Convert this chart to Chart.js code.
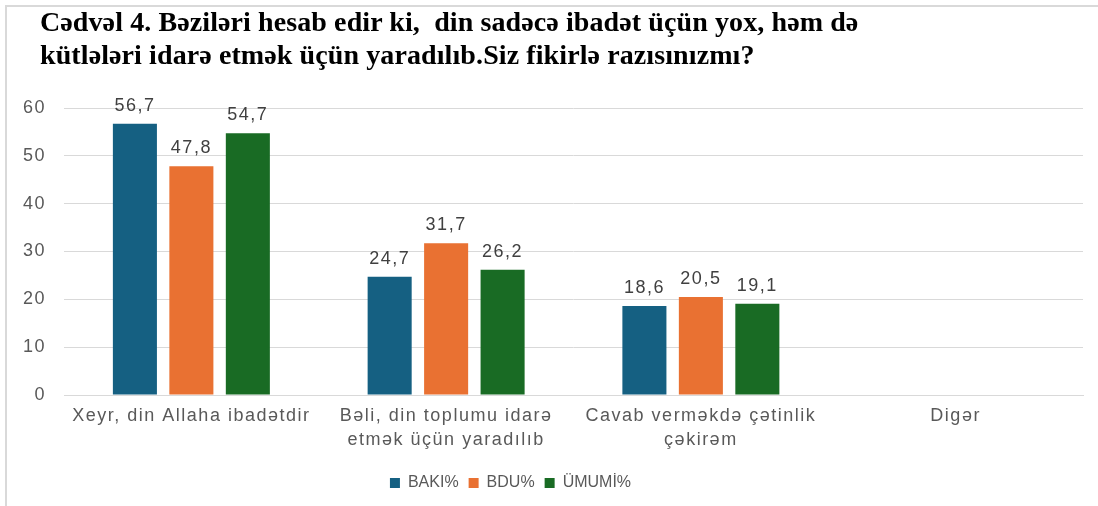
<!DOCTYPE html>
<html>
<head>
<meta charset="utf-8">
<script src="https://cdn.jsdelivr.net/npm/chart.js@4"></script>
<style>
  body { margin: 0; background: #fff; }
  #wrap { position: relative; width: 1098px; height: 506px; }
  #frame { position: absolute; left: 5px; top: 5px; right: 0; bottom: 0;
           border-top: 2px solid #d9d9d9; border-left: 2px solid #d9d9d9; }
  #title { position: absolute; left: 40px; top: 5px; margin: 0; letter-spacing: 0.1px;
           font: bold 28px/33px "Liberation Serif", "Times New Roman", serif; color: #000; }
  canvas { position: absolute; left: 0; top: 0; }
</style>
</head>
<body>
<div id="wrap">
  <div id="frame"></div>
  <canvas id="myChart" width="1098" height="506"></canvas>
  <div id="title">Cədvəl 4. Bəziləri hesab edir ki,&nbsp; din sadəcə ibadət üçün yox, həm də<br>kütlələri idarə etmək üçün yaradılıb.Siz fikirlə razısınızmı?</div>
</div>
<script>
const categories = [
  "Xeyr, din Allaha ibadətdir",
  ["Bəli, din toplumu idarə", "etmək üçün yaradılıb"],
  ["Cavab verməkdə çətinlik", "çəkirəm"],
  "Digər",
];
const baki = [56.7, 24.7, 18.6, null];
const bdu = [47.8, 31.7, 20.5, null];
const umumi = [54.7, 26.2, 19.1, null];
const yTicks = [0, 10, 20, 30, 40, 50, 60];

const SANS = '"Liberation Sans", Arial, sans-serif';
const SPACING = "1.5px";

// the picture's axis text is spaced out, the legend text is not
const spacing = {
  id: "spacing",
  afterInit(chart) {
    const lg = chart.legend;
    const fit = lg.fit, draw = lg.draw;
    lg.fit = function () {
      this.ctx.letterSpacing = "0px";
      fit.apply(this, arguments);
      this.ctx.letterSpacing = SPACING;
    };
    lg.draw = function () {
      this.ctx.letterSpacing = "0px";
      this.left -= 31; this.right -= 31; // legend sits left of centre in the picture
      draw.apply(this, arguments);
      this.left += 31; this.right += 31;
      this.ctx.letterSpacing = SPACING;
    };
  },
  beforeUpdate(chart) { chart.ctx.letterSpacing = SPACING; },
  beforeDraw(chart) { chart.ctx.letterSpacing = SPACING; },
};

// values above the bars, comma as decimal separator
const valueLabels = {
  id: "valueLabels",
  afterDatasetsDraw(chart) {
    const c = chart.ctx;
    c.save();
    c.letterSpacing = SPACING;
    c.font = "18px " + SANS;
    c.fillStyle = "#404040";
    c.textAlign = "center";
    c.textBaseline = "alphabetic";
    chart.data.datasets.forEach((ds, i) => {
      chart.getDatasetMeta(i).data.forEach((bar, j) => {
        const v = ds.data[j];
        if (v == null) return;
        c.fillText(v.toFixed(1).replace(".", ","), bar.x, bar.y - 13);
      });
    });
    c.restore();
  },
};

const ctx = document.getElementById("myChart");
new Chart(ctx, {
  type: "bar",
  data: {
    labels: categories,
    datasets: [
      { label: "BAKI%", data: baki, backgroundColor: "#156082" },
      { label: "BDU%", data: bdu, backgroundColor: "#E97132" },
      { label: "ÜMUMİ%", data: umumi, backgroundColor: "#196B24" },
    ],
  },
  options: {
    responsive: false,
    animation: false,
    categoryPercentage: 0.665,
    barPercentage: 0.78,
    layout: { padding: { left: 0, right: 15, top: 108, bottom: 5 } },
    plugins: {
      legend: {
        position: "bottom",
        labels: {
          boxWidth: 10,
          boxHeight: 10,
          padding: 10,
          color: "#595959",
          font: { family: SANS, size: 16 },
        },
      },
      tooltip: { enabled: false },
    },
    scales: {
      x: {
        afterFit: (axis) => { axis.height = 70; },
        grid: { display: false, drawTicks: false },
        border: { color: "#d9d9d9" },
        ticks: {
          color: "#595959",
          padding: 9,
          maxRotation: 0,
          autoSkip: false,
          font: { family: SANS, size: 18, lineHeight: 1.333 },
        },
      },
      y: {
        min: 0,
        max: 60,
        afterBuildTicks: (axis) => { axis.ticks = yTicks.map((v) => ({ value: v })); },
        afterFit: (axis) => { axis.width = 64; },
        grid: { color: "#d9d9d9", drawTicks: false },
        border: { display: false },
        ticks: {
          color: "#595959",
          padding: 18,
          font: { family: SANS, size: 18 },
        },
      },
    },
  },
  plugins: [spacing, valueLabels],
});
</script>
</body>
</html>
